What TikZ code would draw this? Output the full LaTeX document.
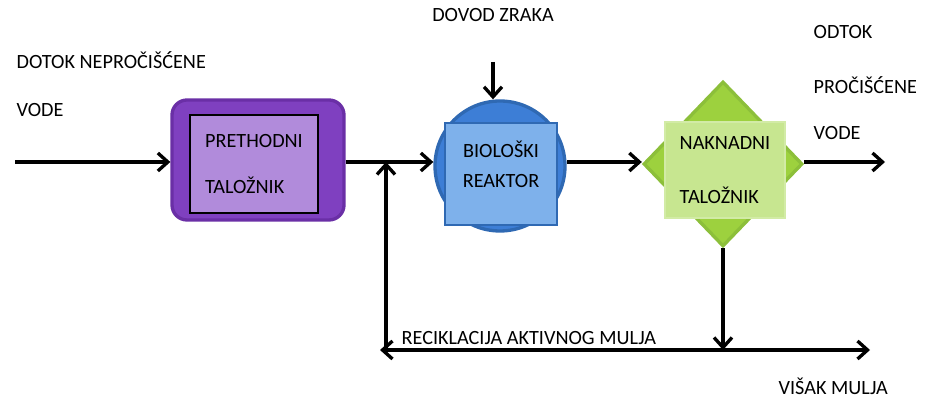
\documentclass[tikz,border=0pt]{standalone}
\usepackage{fontspec}
\setmainfont{Carlito}
\usetikzlibrary{arrows.meta, shapes.geometric}

\definecolor{ljubicasta}{HTML}{7F40C0}
\definecolor{ljubrub}{HTML}{6A2FA6}
\definecolor{svijetloljub}{HTML}{B18BDB}
\definecolor{plava}{HTML}{3D7ED6}
\definecolor{plavarub}{HTML}{2F69B3}
\definecolor{svijetloplava}{HTML}{7EB1EB}
\definecolor{zelena}{HTML}{9DD13E}
\definecolor{zelenarub}{HTML}{8CBF3A}
\definecolor{svijetlozelena}{HTML}{C7E690}

\begin{document}
\begin{tikzpicture}[line width=1.9pt, font=\fontsize{11.5}{13.8}\selectfont,
        tok/.style={-{Straight Barb[length=2mm,width=3.6mm]}},
        natpis/.style={anchor=west, inner sep=0pt}]
        \useasboundingbox (0, 0) rectangle (18.5, 8);

        % spremnici
        \node (pret) at (5.16, 4.8) [draw=ljubrub, fill=ljubicasta, rounded corners=0.3cm, minimum width=3.44cm, minimum height=2.4cm] {};
        \node (pretin) at (5.08, 4.72) [draw, line width=0.6pt, fill=svijetloljub, minimum width=2.56cm, minimum height=1.96cm, align=left] {PRETHODNI\\[12.8pt]TALOŽNIK};

        \node (reak) at (10.0, 4.68) [circle, draw=plavarub, fill=plava, minimum size=2.6cm] {};
        \node (reakin) at (10.02, 4.52) [draw=plavarub, line width=0.8pt, fill=svijetloplava, minimum width=2.24cm, minimum height=2.04cm, align=center] {BIOLOŠKI\\[3.2pt]REAKTOR\\[-3pt]};

        \node (nak) at (14.46, 4.72) [diamond, draw=zelenarub, fill=zelena, minimum width=3.18cm, minimum height=3.3cm, inner sep=0pt] {};
        \node (nakin) at (14.5, 4.6) [draw=svijetlozelena!80!white, line width=0.6pt, fill=svijetlozelena, minimum width=2.4cm, minimum height=1.92cm, align=left] {NAKNADNI\\[16.8pt]TALOŽNIK};

        % natpisi
        \node (dotok) at (0.3, 6.8) [natpis] {DOTOK NEPROČIŠĆENE};
        \node (dotok2) at (0.3, 5.8) [natpis] {VODE};
        \node (zrak) at (9.86, 7.7) {DOVOD ZRAKA};
        \node (odtok) at (16.24, 7.36) [natpis] {ODTOK};
        \node (odtok2) at (16.24, 6.3) [natpis] {PROČIŠĆENE};
        \node (odtok3) at (16.24, 5.34) [natpis] {VODE};
        \node (recik) at (8.0, 1.24) [natpis] {RECIKLACIJA AKTIVNOG MULJA};
        \node (visak) at (15.54, 0.28) [natpis] {VIŠAK MULJA};

        \coordinate (ulaz) at (0.3, 4.76);
        \coordinate (zrakpoc) at (9.86, 6.76);
        \coordinate (izlaz) at (17.7, 4.76);
        \coordinate (spoj) at (7.72, 4.76);
        \coordinate (dolje) at (14.46, 1.0);
        \coordinate (lijevo) at (7.6, 1.0);
        \coordinate (desno) at (17.4, 1.0);

        % tokovi
        \draw[tok] (ulaz) -- (pret.west |- ulaz);
        \draw[tok] (pret.east |- ulaz) -- (reak.west |- ulaz);
        \draw[tok] (zrakpoc) -- (zrakpoc |- reak.north);
        \draw[tok] (reak.east |- ulaz) -- (nak.west |- ulaz);
        \draw[tok] (nak.east |- ulaz) -- (izlaz);
        \draw[tok] (nak.south) -- (dolje);
        \draw[tok] (dolje) -- (lijevo);
        \draw[tok] (dolje) -- (desno);
        \draw[tok] (spoj |- lijevo) -- (spoj);
    \end{tikzpicture}
\end{document}
